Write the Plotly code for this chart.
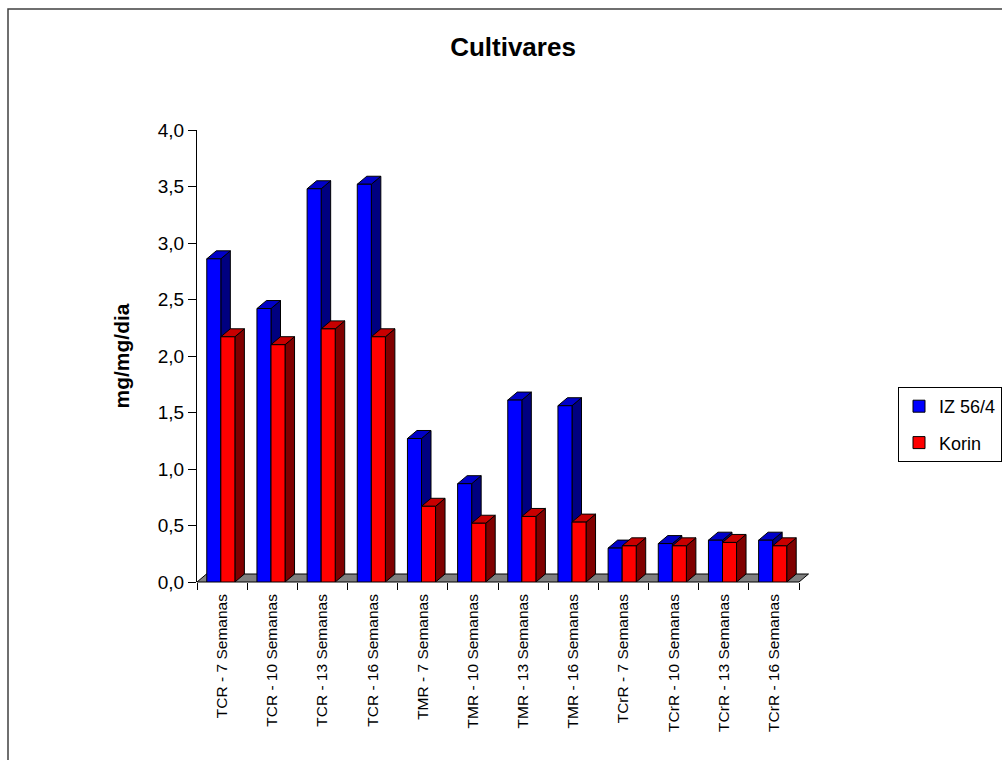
import plotly.graph_objects as go

# --- data -------------------------------------------------------------
groups = ["TCR", "TMR", "TCrR"]
weeks = [7, 10, 13, 16]
series_names = ["IZ 56/4", "Korin"]
iz_values = [2.86, 2.42, 3.48, 3.52, 1.27, 0.87, 1.61, 1.56, 0.30, 0.34, 0.37, 0.37]
korin_values = [2.17, 2.10, 2.24, 2.17, 0.67, 0.52, 0.58, 0.53, 0.32, 0.32, 0.35, 0.32]
y_ticks = [0.0, 0.5, 1.0, 1.5, 2.0, 2.5, 3.0, 3.5, 4.0]

# --- layout constants ---------------------------------------------------
W, H = 1002, 760
ML, MR, MT, MB = 197, 203, 130, 178
PLOT_W = W - ML - MR
PLOT_H = H - MT - MB
Y_MAX = 4.0
N = len(groups) * len(weeks)

FONT = "Arial, 'Liberation Sans', sans-serif"

# pseudo-3D depth of the columns, in pixels, converted to data units
DEPTH_PX_X, DEPTH_PX_Y = 9.5, 8.0
dx = DEPTH_PX_X / (PLOT_W / N)
dy = DEPTH_PX_Y / (PLOT_H / Y_MAX)

BAR_W = 0.28
offsets = [-0.305, -0.025]
front = ["#0000FF", "#FF0000"]
top = ["#0000C8", "#C80000"]
side = ["#000080", "#800000"]

labels = [f"{g} - {wk} Semanas" for g in groups for wk in weeks]

xpos = list(range(N))
values = [iz_values, korin_values]

fig = go.Figure()
for s, name in enumerate(series_names):
    fig.add_trace(go.Bar(
        x=xpos, y=values[s], name=name,
        width=BAR_W, offset=offsets[s],
        marker=dict(color=front[s], line=dict(color="black", width=1)),
        legendgroup=name,
    ))

shapes = []
# floor slab under the columns
fx = DEPTH_PX_X / PLOT_W
fy = DEPTH_PX_Y / PLOT_H
shapes.append(dict(
    type="path", xref="paper", yref="paper", layer="below",
    path=f"M 0 0 L 1 0 L {1+fx} {fy} L {fx} {fy} Z",
    fillcolor="#808080", line=dict(color="black", width=1),
))

# side and top faces of every column, drawn back to front per category
for i in range(N):
    for s in range(2):
        v = values[s][i]
        x0 = i + offsets[s]
        x1 = x0 + BAR_W
        shapes.append(dict(
            type="path", xref="x", yref="y", layer="below",
            path=f"M {x1} 0 L {x1} {v} L {x1+dx} {v+dy} L {x1+dx} {dy} Z",
            fillcolor=side[s], line=dict(color="black", width=1),
        ))
        shapes.append(dict(
            type="path", xref="x", yref="y", layer="below",
            path=f"M {x0} {v} L {x0+dx} {v+dy} L {x1+dx} {v+dy} L {x1} {v} Z",
            fillcolor=top[s], line=dict(color="black", width=1),
        ))

# chart-area frame
shapes.append(dict(
    type="rect", xref="paper", yref="paper", layer="above",
    x0=(8 - ML) / PLOT_W, x1=(W + 10 - ML) / PLOT_W,
    y0=(H - MB - (H + 10)) / PLOT_H, y1=(H - MB - 9) / PLOT_H,
    line=dict(color="#404040", width=1.5), fillcolor="rgba(0,0,0,0)",
))

fig.update_layout(
    width=W, height=H,
    margin=dict(l=ML, r=MR, t=MT, b=MB, autoexpand=False),
    paper_bgcolor="white", plot_bgcolor="white",
    separators=", ",
    barmode="overlay",
    font=dict(family=FONT, color="black"),
    title=dict(text="<b>Cultivares</b>", x=513 / W, xanchor="center",
               y=1 - 47 / H, yanchor="middle",
               font=dict(size=26, family=FONT, color="black")),
    shapes=shapes,
    showlegend=True,
    legend=dict(
        x=(898 - ML) / PLOT_W, y=(H - MB - 387) / PLOT_H,
        xanchor="left", yanchor="top",
        bgcolor="white", bordercolor="black", borderwidth=1,
        font=dict(size=18, family=FONT, color="black"),
        traceorder="grouped", tracegroupgap=10,
    ),
    xaxis=dict(
        range=[-0.5, N - 0.5],
        tickmode="array", tickvals=xpos, ticktext=labels,
        tickangle=-90, ticks="", ticklabelstandoff=8,
        tickfont=dict(size=15.5, family=FONT, color="black"),
        showgrid=False, zeroline=False, showline=False,
        minor=dict(tickmode="array", tickvals=[k - 0.5 for k in range(N + 1)],
                   ticks="outside", ticklen=7, tickcolor="black", tickwidth=1,
                   showgrid=False),
    ),
    yaxis=dict(
        range=[0, Y_MAX],
        tickmode="array", tickvals=y_ticks, tickformat=".1f",
        ticks="outside", ticklen=8, tickcolor="black", tickwidth=1,
        showline=True, linecolor="black", linewidth=1,
        showgrid=False, zeroline=False,
        tickfont=dict(size=19, family=FONT, color="black"),
        title=dict(text="<b>mg/mg/dia</b>", standoff=22,
                   font=dict(size=21, family=FONT, color="black")),
    ),
)

fig.write_html("out.html")
